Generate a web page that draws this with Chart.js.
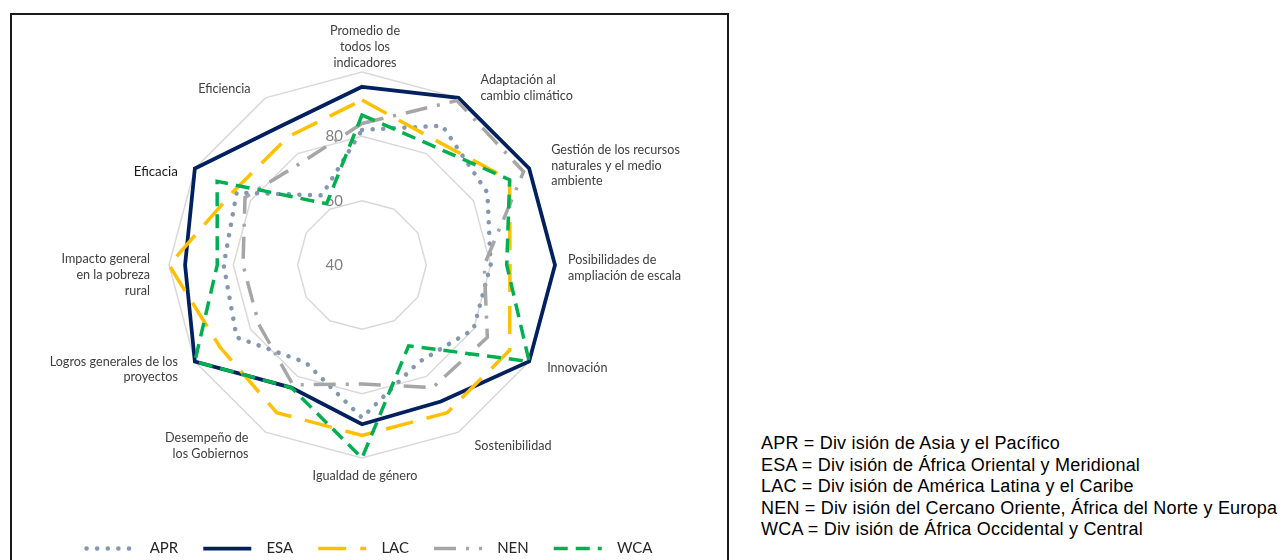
<!DOCTYPE html>
<html lang="es">
<head>
<meta charset="utf-8">
<title>Calificaciones por división regional</title>
<script src="https://cdn.jsdelivr.net/npm/chart.js@4.4.1/dist/chart.umd.min.js"></script>
<style>
  html, body { margin: 0; padding: 0; background: #fff; width: 1284px; height: 560px; overflow: hidden; }
  #frame { position: absolute; left: 10px; top: 13px; width: 715px; height: 560px;
           border: 2px solid #1a1a1a; border-bottom: none; }
  #wrap { position: absolute; left: 12px; top: 15px; width: 715px; height: 551px; }
  #notes { position: absolute; left: 761px; top: 433px; color: #000; white-space: nowrap;
           font: 18px "Liberation Sans", Arial, sans-serif; letter-spacing: 0.2px; line-height: 21.5px; }
</style>
</head>
<body>
<div id="frame"></div>
<div id="wrap"><canvas id="radar"></canvas></div>
<div id="notes">
  <div>APR = Div isión de Asia y el Pacífico</div>
  <div>ESA = Div isión de África Oriental y Meridional</div>
  <div>LAC = Div isión de América Latina y el Caribe</div>
  <div>NEN = Div isión del Cercano Oriente, África del Norte y Europa</div>
  <div>WCA = Div isión de África Occidental y Central</div>
</div>
<script>
// Criterios de evaluación (uno por eje, en el sentido de las agujas del reloj)
const categories = [
  ['Promedio de', 'todos los', 'indicadores'],
  ['Adaptación al', 'cambio climático'],
  ['Gestión de los recursos', 'naturales y el medio', 'ambiente'],
  ['Posibilidades de', 'ampliación de escala'],
  ['Innovación'],
  ['Sostenibilidad'],
  ['Igualdad de género'],
  ['Desempeño de', 'los Gobiernos'],
  ['Logros generales de los', 'proyectos'],
  ['Impacto general', 'en la pobreza', 'rural'],
  ['Eficacia'],
  ['Eficiencia']
];

// Porcentaje de proyectos con calificación positiva, por división
const APR = [82, 90, 85, 80, 80, 75, 87.5, 75, 85, 83, 85, 65];
const ESA = [95.4, 100, 100, 100, 100, 89, 89.5, 84, 100, 95, 100, 90];
const LAC = [91.3, 85, 93, 86, 93, 93, 93, 93, 91, 100, 86, 86];
const NEN = [84, 99, 98, 78, 85, 84, 77, 83, 77, 77, 82, 77];
const WCA = [86.6, 83, 93, 85, 100, 69, 100, 84, 100, 85, 92, 62];

// Etiquetas de la escala radial
const tickValues = [40, 60, 80];
const tickLabels = ['40', '60', '80'];

// Colocación de las etiquetas de categoría respecto al vértice exterior:
// [alineación, desplazamiento x, desplazamiento y del centro del bloque, tamaño]
const labelPlacement = [
  ['center', 3, -25, 12.6],
  ['left', 22, -10, 12.6],
  ['left', 22, -3, 12.6],
  ['left', 13, 3, 12.6],
  ['left', 18, 6, 12.6],
  ['left', 16, 14, 12.6],
  ['center', 3, 18, 12.6],
  ['right', -17, 14, 12.6],
  ['right', -17, 8, 12.6],
  ['right', -19, 10, 12.6],
  ['right', -17, 3, 13.3],
  ['right', -15, -9, 12.6]
];

const axisText = {
  id: 'axisText',
  beforeDatasetsDraw(chart) {
    const s = chart.scales.r;
    const ctx = chart.ctx;
    ctx.save();
    ctx.textBaseline = 'middle';

    // valores de la escala, a la izquierda del eje vertical
    ctx.font = '15px Lato';
    ctx.fillStyle = '#808080';
    ctx.textAlign = 'right';
    tickValues.forEach((v, i) => {
      const p = s.getPointPositionForValue(0, v);
      ctx.fillText(tickLabels[i], s.xCenter - 19, p.y);
    });

    // nombres de los criterios alrededor del polígono exterior
    const lineH = 15.7;
    categories.forEach((lines, i) => {
      const v = s.getPointPosition(i, s.drawingArea);
      const [align, dx, dy, size] = labelPlacement[i];
      ctx.font = size + 'px Lato';
      ctx.fillStyle = size > 13 ? '#1a1a1a' : '#404040';
      ctx.textAlign = align;
      const top = v.y + dy - (lines.length - 1) * lineH / 2;
      lines.forEach((t, k) => ctx.fillText(t, v.x + dx, top + k * lineH));
    });
    ctx.restore();
  }
};

const series = [
  { label: 'APR', data: APR, borderColor: '#8497b0', borderWidth: 4.5, borderDash: [0.1, 10.5], borderCapStyle: 'round', order: 5 },
  { label: 'ESA', data: ESA, borderColor: '#002060', borderWidth: 3.75, borderDash: [], borderCapStyle: 'butt', order: 4 },
  { label: 'LAC', data: LAC, borderColor: '#ffc000', borderWidth: 3.5, borderDash: [28, 14], borderCapStyle: 'butt', order: 3 },
  { label: 'NEN', data: NEN, borderColor: '#a6a6a6', borderWidth: 3.5, borderDash: [22, 10, 3, 10], borderCapStyle: 'butt', order: 2 },
  { label: 'WCA', data: WCA, borderColor: '#00b050', borderWidth: 3.5, borderDash: [14, 8], borderCapStyle: 'butt', order: 1 }
];

// Muestras de la leyenda con el mismo trazo que cada serie
function legendItems(chart) {
  const items = Chart.defaults.plugins.legend.labels.generateLabels(chart);
  items.forEach(it => {
    const ds = chart.data.datasets[it.datasetIndex];
    it.text = '  ' + ds.label;
    it.strokeStyle = ds.borderColor;
    it.lineWidth = ds.borderWidth;
    it.lineDash = ds.borderDash;
    it.lineCap = ds.borderCapStyle;
    it.pointStyle = 'line';
  });
  return items.sort((a, b) => a.datasetIndex - b.datasetIndex);
}

new Chart(document.getElementById('radar'), {
  type: 'radar',
  data: {
    labels: categories,
    datasets: series.map(d => Object.assign({
      backgroundColor: 'rgba(0,0,0,0)', fill: false, pointRadius: 0, pointHoverRadius: 0, tension: 0
    }, d))
  },
  options: {
    responsive: true,
    maintainAspectRatio: false,
    animation: false,
    layout: { padding: 0 },
    plugins: {
      legend: {
        position: 'bottom',
        labels: {
          usePointStyle: true,
          pointStyle: 'line',
          pointStyleWidth: 48,
          padding: 25,
          color: '#262626',
          font: { family: 'Lato', size: 15 },
          generateLabels: legendItems
        }
      },
      tooltip: { enabled: false }
    },
    scales: {
      r: {
        min: 40,
        max: 100,
        ticks: { stepSize: 20, display: false },
        grid: { color: '#d9d9d9', lineWidth: 1.5 },
        angleLines: { display: false },
        pointLabels: { display: false },
        afterFit(scale) {
          scale.xCenter = 350;
          scale.yCenter = 250;
          scale.drawingArea = 193;
        }
      }
    }
  },
  plugins: [axisText]
});
</script>
</body>
</html>
